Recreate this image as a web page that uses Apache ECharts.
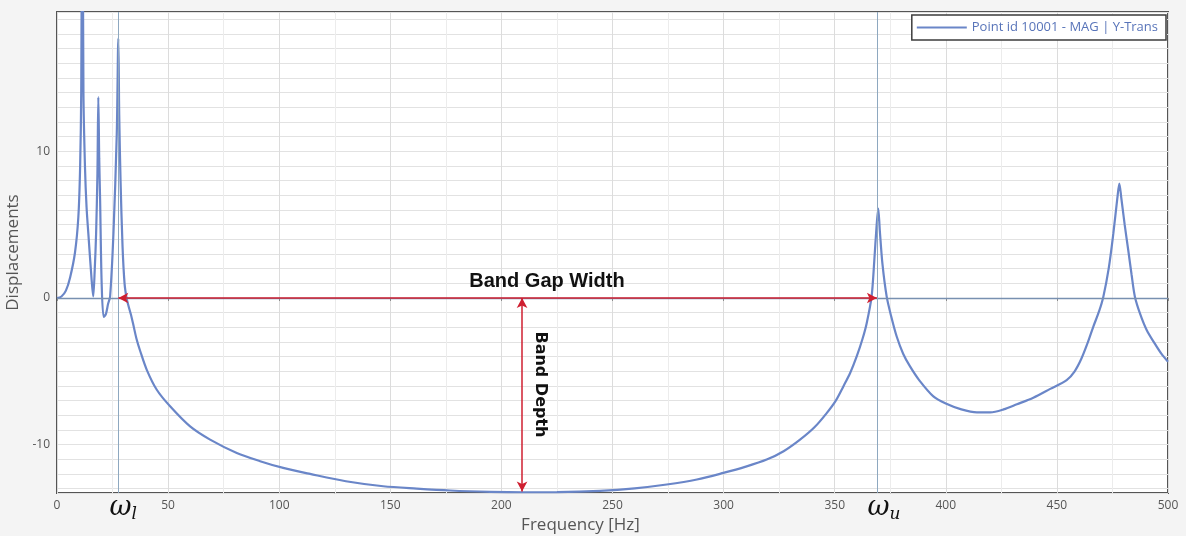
<!DOCTYPE html>
<html>
<head>
<meta charset="UTF-8">
<title>Band gap</title>
<script src="https://cdn.jsdelivr.net/npm/echarts@6.0.0/dist/echarts.min.js"></script>
<style>
html, body { margin: 0; padding: 0; background: #f4f4f4; }
#chart { width: 1186px; height: 536px; }
</style>
</head>
<body>
<div id="chart"></div>
<script>
// frequency [Hz] and displacement
var freq = [0, 2, 4, 5.9, 8.1, 9.6, 10.4, 10.9, 11.4, 11.9, 12.6, 13.3, 14.1, 15.6, 16.3,
  17.0, 17.6, 18.2, 18.6, 19.0, 19.4, 20.1, 21.0, 22.0, 23.0, 23.9, 25.4, 26.9, 27.6,
  28.0, 28.6, 29.5, 30.4, 31.3, 32.1, 33.2, 34.3, 35.8, 37.4, 40.4, 44.9, 50.9, 59.9,
  68.9, 80.9, 91.4, 101.8, 113.9, 130, 146.8, 161.9, 176.9, 195, 210, 225, 244.4, 260,
  274.4, 288, 299.9, 310, 319.4, 327, 334.4, 341, 346.4, 350.5, 353.9, 357, 359.9, 362.5,
  364.4, 366.6, 367.8, 368.8, 369.6, 370.3, 371.5, 373.4, 375.5, 377.9, 380.8, 383.9, 388,
  394.4, 400, 407, 414, 420, 426, 432, 439.4, 447, 454.4, 458, 461, 464, 466.4, 469, 470.9,
  473.3, 475.4, 477.2, 478.1, 479, 480.5, 482.1, 483.6, 485.1, 487.5, 490.4, 494, 497, 500];
var disp = [0, 0.1, 0.5, 1.4, 3.1, 5.5, 8.9, 14, 32, 14, 8.9, 6.2, 4.4, 1.2, 0.1,
  2.0, 4.4, 8.5, 13.7, 9.5, 6.7, 1.0, -1.3, -1.1, -0.4, 0.1, 4.4, 11.2, 17.7,
  12.5, 8.0, 3.5, 1.0, 0, -0.5, -1.1, -1.8, -2.8, -3.6, -4.9, -6.26, -7.39, -8.76,
  -9.66, -10.57, -11.13, -11.59, -12.0, -12.5, -12.84, -13.0, -13.13, -13.22, -13.25, -13.24, -13.15, -12.98,
  -12.72, -12.38, -11.93, -11.5, -11.02, -10.45, -9.66, -8.8, -7.85, -7.0, -6.03, -5.1, -3.99, -2.8,
  -1.72, 0.09, 2.5, 4.8, 6.1, 4.6, 2.3, 0.09, -1.3, -2.63, -3.8, -4.67, -5.6,
  -6.71, -7.2, -7.6, -7.8, -7.8, -7.6, -7.25, -6.8, -6.2, -5.6, -5.0, -4.15, -3.0, -1.95, -0.9, 0.09,
  2, 4.4, 6.8, 7.8, 6.8, 5, 3.27, 1.6, 0.09, -1.1, -2.18, -3.1, -3.8, -4.35];

var seriesName = 'Point id 10001 - MAG | Y-Trans';
var wLow = 27.6;      // lower band edge
var wHigh = 369;      // upper band edge
var depthAt = 209.3;  // where band depth is measured
var depthMin = -13.2;

var chart = echarts.init(document.getElementById('chart'));

var points = freq.map(function (f, i) { return [f, disp[i]]; });

var red = '#cf1f30';
var omegaRich = {
  w: { fontFamily: 'DejaVu Serif', fontStyle: 'italic', fontSize: 27, color: '#111', lineHeight: 30, verticalAlign: 'middle' },
  s: { fontFamily: 'DejaVu Serif', fontStyle: 'italic', fontSize: 17, color: '#111', lineHeight: 30, verticalAlign: 'bottom' }
};

var option = {
  backgroundColor: '#f4f4f4',
  animation: false,
  grid: {
    left: 57, right: 18, top: 12, bottom: 43,
    containLabel: false,
    outerBoundsMode: 'none',
    show: true,
    backgroundColor: '#fff',
    borderColor: '#555',
    borderWidth: 2
  },
  legend: {
    right: 20, top: 15,
    icon: 'rect',
    itemWidth: 50, itemHeight: 2,
    itemGap: 4,
    padding: [6, 8, 6, 5],
    borderColor: '#3d3d3d', borderWidth: 1.5,
    backgroundColor: '#fff',
    textStyle: { color: '#5874b9', fontSize: 13, fontFamily: 'Open Sans' },
    data: [seriesName]
  },
  xAxis: {
    type: 'value',
    min: 0, max: 500, interval: 50,
    name: 'Frequency [Hz]',
    nameLocation: 'middle',
    nameGap: 19,
    nameTextStyle: { color: '#555', fontSize: 17, fontFamily: 'Open Sans', padding: [0, 64, 0, 0] },
    axisLine: { show: false },
    axisTick: { show: true, length: 3, lineStyle: { color: '#888' } },
    axisLabel: { color: '#555', fontSize: 12, fontFamily: 'Open Sans', margin: 7 },
    splitLine: { lineStyle: { color: '#dcdcdc' } },
    minorTick: { show: false, splitNumber: 2 },
    minorSplitLine: { show: true, lineStyle: { color: '#ececec' } }
  },
  yAxis: {
    type: 'value',
    min: -13.3, max: 19.5,
    splitNumber: 33,
    name: 'Displacements',
    nameLocation: 'middle',
    nameGap: 26,
    nameTextStyle: { color: '#555', fontSize: 17, fontFamily: 'Open Sans' },
    axisLine: { show: false },
    axisTick: { show: false },
    axisLabel: {
      color: '#555', fontSize: 12, fontFamily: 'Open Sans', margin: 7,
      formatter: function (v) { return Math.abs(v % 10) < 1e-6 ? String(Math.round(v)) : ''; }
    },
    splitLine: { lineStyle: { color: '#e2e2e2' } }
  },
  series: [{
    name: seriesName,
    type: 'line',
    data: points,
    showSymbol: false,
    smooth: 0.3,
    clip: true,
    lineStyle: { color: '#6a86c8', width: 2.2 },
    itemStyle: { color: '#6a86c8' },
    z: 3,
    markLine: {
      silent: true,
      symbol: 'none',
      animation: false,
      data: [
        { yAxis: 0, lineStyle: { color: '#7890b0', width: 1.3, type: 'solid' }, label: { show: false } },
        {
          xAxis: wLow, lineStyle: { color: '#8ea8c0', width: 1, type: 'solid' },
          label: { show: true, position: 'start', distance: 0, padding: [0, 0, 0, 10], formatter: '{w|ω}{s|l}', rich: omegaRich }
        },
        {
          xAxis: wHigh, lineStyle: { color: '#8ea8c0', width: 1, type: 'solid' },
          label: { show: true, position: 'start', distance: 0, padding: [0, 0, 0, 14], formatter: '{w|ω}{s|u}', rich: omegaRich }
        },
        [
          { coord: [wLow, 0], symbol: 'arrow', symbolSize: [8, 10] },
          { coord: [wHigh, 0], symbol: 'arrow', symbolSize: [8, 10], lineStyle: { color: red, width: 1.5, type: 'solid' }, label: { show: false } }
        ],
        [
          { coord: [depthAt, 0], symbol: 'arrow', symbolSize: [8, 10] },
          { coord: [depthAt, depthMin], symbol: 'arrow', symbolSize: [8, 10], lineStyle: { color: red, width: 1.5, type: 'solid' }, label: { show: false } }
        ]
      ]
    },
    markPoint: {
      silent: true,
      symbol: 'circle',
      symbolSize: 0,
      animation: false,
      data: [
        {
          coord: [220.5, 1.1],
          label: { show: true, position: 'inside', formatter: 'Band Gap Width', fontFamily: 'Liberation Sans', fontWeight: 'bold', fontSize: 20, color: '#111' }
        },
        {
          coord: [217.4, -5.9],
          label: { show: true, position: 'inside', rotate: -90, formatter: 'Band Depth', fontFamily: 'DejaVu Sans', fontWeight: 'bold', fontSize: 16, color: '#111' }
        }
      ]
    }
  }]
};

chart.setOption(option);
</script>
</body>
</html>
